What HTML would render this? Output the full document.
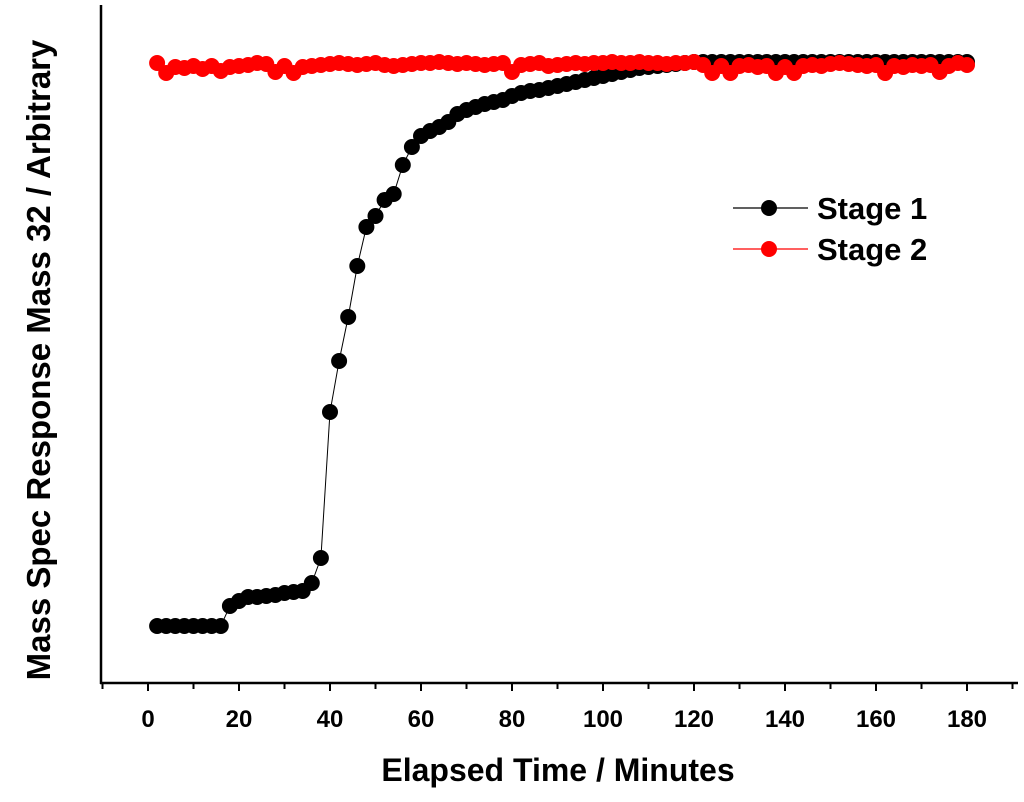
<!DOCTYPE html>
<html><head><meta charset="utf-8"><style>
body{margin:0;background:#fff;}
svg{display:block;font-family:"Liberation Sans",Arial,sans-serif;font-weight:bold;}
</style></head><body>
<svg id="chart" width="1024" height="802">
<g id="axes"></g>
<g id="plot"></g>
<text x="558" y="781" font-size="32" text-anchor="middle">Elapsed Time / Minutes</text>
<text transform="translate(50,360) rotate(-90)" font-size="33" text-anchor="middle">Mass Spec Response Mass 32 / Arbitrary</text>
<g>
<g>
<line x1="733" y1="208" x2="808" y2="208" stroke="#000" stroke-width="1.2"/>
<circle cx="769" cy="208" r="8" fill="#000"/>
<text x="817" y="219" font-size="31">Stage 1</text></g>
<g>
<line x1="733" y1="249" x2="808" y2="249" stroke="#f00" stroke-width="1.2"/>
<circle cx="769" cy="249" r="8" fill="#f00"/>
<text x="817" y="260" font-size="31">Stage 2</text></g>
</g>
</svg>
<script>
const times=[];for(let t=2;t<=180;t+=2)times.push(t);
const stage1=[57,57,57,57,57,57,57,57,
77,82,86,86,87,88,90,91,92,100,125,271,322,366,417,456,467,483,489,518,536,547,552,556,561,569,573,576,579,581,583,587,590,592,593,595,597,599,601,603,605,607,609,611,613,615,616,617,618,619,620,
621,621,621,621,621,621,621,621,621,621,621,621,621,621,621,621,621,621,621,621,621,621,621,621,621,621,621,621,621,621,621];
const stage2=[620,610,616,615,617,614,617,612,616,617,618,620,619,611,617,610,616,617,618,619,620,619,618,619,620,618,617,618,619,620,620,621,620,619,620,619,618,619,620,611,618,619,620,617,618,619,620,619,620,620,621,620,620,621,620,620,619,620,620,621,618,610,617,610,617,618,616,617,610,616,610,617,618,617,619,620,619,618,617,618,610,617,616,618,617,618,611,617,620,618];
const xTicks=[0,20,40,60,80,100,120,140,160,180];
const X0=148,X1=967,Y0=683;
const xs=t=>X0+(X1-X0)*t/180;
const ys=v=>Y0-v;
const NS="http://www.w3.org/2000/svg";
const axes=document.getElementById('axes'),plot=document.getElementById('plot');
function mk(tag,attrs,parent){const e=document.createElementNS(NS,tag);for(const k in attrs)e.setAttribute(k,attrs[k]);parent.appendChild(e);return e;}
let l=mk('line',{x1:101,y1:5,x2:101,y2:684,stroke:'#000','stroke-width':2.5},axes);


l=mk('line',{x1:100,y1:683,x2:1018,y2:683,stroke:'#000','stroke-width':2.5},axes);


for(let t=-10;t<=190;t+=10){const x=xs(t);if(x<101)continue;const major=xTicks.includes(t);
 const tk=mk('line',{x1:x,y1:683,x2:x,y2:major?691:689,stroke:'#000','stroke-width':2},axes);
 
 }
xTicks.forEach(t=>{const tx=mk('text',{x:xs(t),y:727,'font-size':24,'text-anchor':'middle'},axes);tx.textContent=t;
 
 });
function series(vals,color,name){
 const g=mk('g',{},plot);
 
 
 mk('polyline',{points:vals.map((v,i)=>xs(times[i])+','+ys(v)).join(' '),fill:'none',stroke:color,'stroke-width':1},g);
 vals.forEach((v,i)=>{const c=mk('circle',{cx:xs(times[i]),cy:ys(v),r:8,fill:color},g);
  
  });
}
series(stage1,'#000','stage-1-series');
series(stage2,'#f00','stage-2-series');
</script>
</body></html>
